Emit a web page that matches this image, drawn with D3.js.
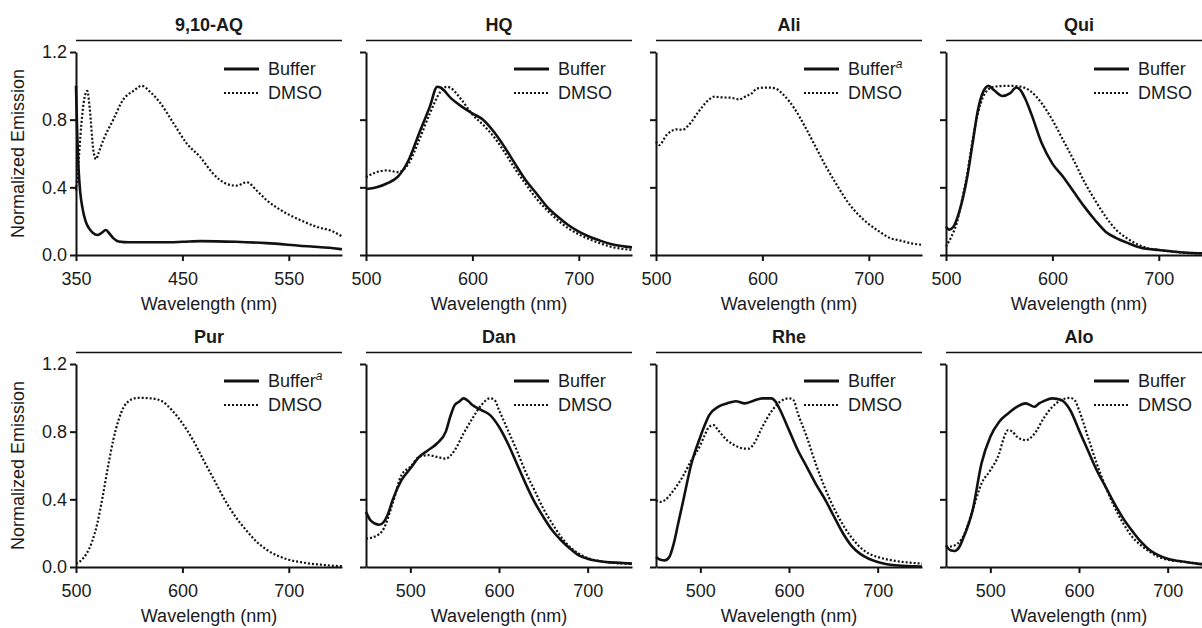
<!DOCTYPE html>
<html>
<head>
<meta charset="utf-8">
<script src="https://cdn.jsdelivr.net/npm/d3@7"></script>
<style>
  body { margin: 0; background: #fff; }
  svg { display: block; }
  text { font-family: "Liberation Sans", Arial, sans-serif; fill: #1a1a1a; }
</style>
</head>
<body>
<div class="chart-box"></div>
<script>
// emission spectra, [wavelength (nm), normalized emission]
const aqBuffer = [[350,1.0],[351,0.75],[352.5,0.5],[354,0.37],[356,0.28],[359,0.2],[362,0.16],[366,0.13],[370,0.118],[374,0.13],[378,0.148],[381,0.13],[385,0.1],[390,0.08],[400,0.075],[430,0.075],[450,0.078],[467,0.082],[500,0.078],[529,0.07],[560,0.055],[592,0.04],[600,0.034]];
const aqDmso = [[350,0.38],[352,0.52],[355,0.77],[358,0.93],[360.7,0.97],[363,0.86],[366.3,0.62],[368.8,0.566],[371,0.6],[375.7,0.68],[385,0.8],[394.5,0.92],[404,0.97],[411.8,1.0],[419.6,0.965],[429,0.9],[441.5,0.78],[454,0.66],[466.6,0.58],[479,0.48],[491.7,0.42],[501,0.41],[510.5,0.43],[520,0.38],[529,0.325],[545,0.256],[560.6,0.207],[576,0.167],[592,0.138],[600,0.11]];

const hqBuffer = [[500,0.39],[510,0.4],[520,0.424],[530,0.463],[540,0.56],[550,0.72],[560,0.877],[567,0.995],[570,0.99],[580,0.926],[590,0.877],[600,0.837],[610,0.8],[620,0.73],[630,0.64],[640,0.54],[650,0.443],[660,0.365],[670,0.286],[680,0.227],[690,0.177],[700,0.138],[710,0.108],[720,0.085],[730,0.065],[740,0.053],[750,0.045]];
const hqDmso = [[500,0.46],[510,0.49],[520,0.5],[530,0.49],[540,0.54],[550,0.68],[560,0.837],[570,0.965],[576,0.995],[580,0.985],[590,0.916],[600,0.83],[610,0.77],[620,0.7],[630,0.61],[640,0.51],[650,0.42],[660,0.335],[670,0.266],[680,0.207],[690,0.158],[700,0.122],[710,0.093],[720,0.069],[730,0.049],[740,0.037],[750,0.03]];

const aliBuffer = [];
const aliDmso = [[500,0.67],[503,0.65],[510,0.71],[520,0.743],[525,0.74],[530,0.763],[540,0.847],[550,0.92],[555,0.936],[560,0.932],[570,0.93],[578,0.92],[585,0.94],[590,0.955],[595,0.985],[605,0.99],[612,0.985],[620,0.946],[630,0.867],[640,0.759],[650,0.64],[660,0.52],[670,0.414],[680,0.315],[690,0.24],[700,0.183],[710,0.138],[720,0.1],[730,0.085],[740,0.069],[750,0.06]];

const quiBuffer = [[500,0.167],[503,0.15],[507,0.167],[512,0.246],[520,0.463],[525,0.66],[530,0.857],[535,0.966],[540,1.0],[545,0.975],[553,0.94],[560,0.955],[566,0.99],[570,0.975],[575,0.916],[580,0.837],[590,0.66],[600,0.54],[610,0.463],[620,0.374],[630,0.286],[640,0.207],[650,0.138],[660,0.1],[670,0.073],[680,0.049],[690,0.035],[700,0.03],[720,0.016],[740,0.01],[750,0.008]];
const quiDmso = [[500,0.05],[505,0.108],[510,0.187],[515,0.325],[520,0.48],[525,0.68],[530,0.837],[535,0.936],[540,0.98],[545,0.995],[560,1.0],[570,0.995],[580,0.966],[590,0.896],[600,0.798],[610,0.68],[620,0.56],[630,0.433],[640,0.325],[650,0.227],[660,0.148],[670,0.099],[680,0.063],[690,0.04],[700,0.03],[720,0.015],[740,0.008],[750,0.005]];

const purBuffer = [];
const purDmso = [[500,0.02],[505,0.04],[510,0.08],[515,0.148],[520,0.257],[525,0.414],[530,0.59],[535,0.75],[540,0.868],[545,0.947],[550,0.983],[555,0.997],[560,1.0],[570,0.997],[580,0.983],[590,0.928],[600,0.849],[610,0.75],[620,0.63],[630,0.513],[640,0.395],[650,0.296],[660,0.217],[670,0.148],[680,0.099],[690,0.065],[700,0.043],[710,0.03],[720,0.02],[730,0.014],[740,0.008],[750,0.005]];

const danBuffer = [[450,0.326],[455,0.276],[460,0.257],[465,0.25],[470,0.266],[475,0.316],[480,0.395],[490,0.513],[500,0.582],[510,0.651],[520,0.69],[530,0.73],[540,0.8],[545,0.888],[550,0.957],[555,0.977],[560,0.997],[565,0.983],[570,0.957],[580,0.928],[590,0.898],[600,0.829],[610,0.73],[620,0.612],[630,0.493],[640,0.385],[650,0.296],[660,0.217],[670,0.158],[680,0.109],[690,0.069],[700,0.049],[720,0.03],[740,0.024],[750,0.02]];
const danDmso = [[450,0.168],[460,0.18],[470,0.227],[480,0.375],[490,0.543],[500,0.592],[510,0.651],[520,0.661],[530,0.651],[540,0.641],[550,0.69],[560,0.789],[570,0.878],[580,0.957],[590,0.997],[595,0.987],[600,0.928],[610,0.809],[620,0.69],[630,0.562],[640,0.454],[650,0.345],[660,0.257],[670,0.178],[680,0.118],[690,0.079],[700,0.053],[720,0.03],[740,0.02],[750,0.018]];

const rheBuffer = [[450,0.059],[455,0.043],[460,0.039],[465,0.059],[470,0.138],[475,0.257],[480,0.375],[490,0.612],[500,0.77],[505,0.839],[510,0.898],[520,0.947],[530,0.967],[540,0.98],[550,0.967],[560,0.983],[570,0.997],[580,0.997],[585,0.977],[590,0.928],[600,0.809],[610,0.69],[620,0.592],[630,0.493],[640,0.405],[650,0.306],[660,0.207],[670,0.128],[680,0.079],[690,0.049],[700,0.03],[720,0.01],[740,0.004],[750,0.003]];
const rheDmso = [[450,0.395],[455,0.385],[460,0.395],[470,0.454],[480,0.533],[490,0.632],[500,0.72],[505,0.78],[510,0.829],[515,0.839],[520,0.809],[530,0.75],[540,0.716],[550,0.7],[555,0.7],[560,0.726],[570,0.829],[580,0.918],[590,0.977],[600,0.997],[605,0.987],[610,0.908],[620,0.77],[630,0.612],[640,0.474],[650,0.355],[660,0.257],[670,0.178],[680,0.118],[690,0.079],[700,0.059],[720,0.036],[740,0.024],[750,0.02]];

const aloBuffer = [[450,0.128],[455,0.099],[460,0.095],[465,0.118],[470,0.178],[480,0.335],[490,0.612],[500,0.77],[510,0.859],[520,0.908],[530,0.947],[540,0.967],[545,0.957],[550,0.947],[555,0.967],[560,0.98],[570,0.997],[580,0.987],[590,0.928],[600,0.809],[610,0.69],[620,0.572],[630,0.474],[640,0.375],[650,0.286],[660,0.213],[670,0.148],[680,0.099],[690,0.069],[700,0.049],[720,0.03],[740,0.016],[750,0.012]];
const aloDmso = [[450,0.118],[460,0.128],[470,0.187],[480,0.335],[490,0.493],[500,0.572],[510,0.671],[515,0.76],[520,0.809],[525,0.8],[530,0.77],[540,0.75],[550,0.789],[560,0.878],[570,0.947],[580,0.987],[590,1.0],[595,0.987],[600,0.928],[610,0.77],[620,0.612],[630,0.474],[640,0.355],[650,0.257],[660,0.178],[670,0.128],[680,0.089],[690,0.059],[700,0.043],[720,0.03],[740,0.016],[750,0.012]];

const titles = ["9,10-AQ", "HQ", "Ali", "Qui", "Pur", "Dan", "Rhe", "Alo"];
const xDomains = [[350, 600], [500, 750], [500, 750], [500, 750], [500, 750], [450, 750], [450, 750], [450, 750]];
const xTicks = [[350, 450, 550], [500, 600, 700], [500, 600, 700], [500, 600, 700], [500, 600, 700], [500, 600, 700], [500, 600, 700], [500, 600, 700]];
const yTicks = [0, 0.4, 0.8, 1.2];
const bufferSeries = [aqBuffer, hqBuffer, aliBuffer, quiBuffer, purBuffer, danBuffer, rheBuffer, aloBuffer];
const dmsoSeries = [aqDmso, hqDmso, aliDmso, quiDmso, purDmso, danDmso, rheDmso, aloDmso];
const bufferNote = [false, false, true, false, true, false, false, false];

const width = 1202, height = 628;
const left0 = 76, top0 = 52, colStep = 290, rowStep = 312;
const pw = 266, ph = 203;

const svg = d3.select(".chart-box").append("svg")
  .attr("width", width)
  .attr("height", height);

const y = d3.scaleLinear().domain([0, 1.2]).range([ph, 0]);

function styleAxis(g) {
  g.select(".domain").attr("stroke", "#111").attr("stroke-width", 2);
  g.selectAll(".tick line").attr("stroke", "#111").attr("stroke-width", 2);
  g.selectAll(".tick text")
    .attr("font-size", 18)
    .attr("fill", "#1a1a1a")
    .attr("font-family", "'Liberation Sans', Arial, sans-serif");
}

titles.forEach((title, i) => {
  const col = i % 4, row = Math.floor(i / 4);
  const g = svg.append("g")
    .attr("transform", "translate(" + (left0 + col * colStep) + "," + (top0 + row * rowStep) + ")");

  const x = d3.scaleLinear().domain(xDomains[i]).range([0, pw]);

  // title with rule underneath
  g.append("text")
    .attr("x", pw / 2).attr("y", -21)
    .attr("text-anchor", "middle")
    .attr("font-size", 18).attr("font-weight", "bold")
    .text(title);
  g.append("line")
    .attr("x1", 0).attr("x2", pw)
    .attr("y1", -11.5).attr("y2", -11.5)
    .attr("stroke", "#111").attr("stroke-width", 1.5);

  const yAxis = d3.axisLeft(y).tickValues(yTicks).tickSize(6).tickSizeOuter(0).tickPadding(3)
    .tickFormat(col === 0 ? d3.format(".1f") : () => "");
  g.append("g").call(yAxis).call(styleAxis);

  const xAxis = d3.axisBottom(x).tickValues(xTicks[i]).tickSize(6).tickSizeOuter(0).tickPadding(11)
    .tickFormat(d3.format("d"));
  g.append("g").attr("transform", "translate(0," + ph + ")").call(xAxis).call(styleAxis);

  g.append("text")
    .attr("x", pw / 2).attr("y", ph + 55)
    .attr("text-anchor", "middle")
    .attr("font-size", 18)
    .text("Wavelength (nm)");

  if (col === 0) {
    g.append("text")
      .attr("transform", "translate(-52," + (ph / 2) + ") rotate(-90)")
      .attr("text-anchor", "middle")
      .attr("font-size", 18)
      .text("Normalized Emission");
  }

  const line = d3.line()
    .x(d => x(d[0]))
    .y(d => y(d[1]))
    .curve(d3.curveMonotoneX);

  g.append("path")
    .datum(dmsoSeries[i])
    .attr("d", line)
    .attr("fill", "none")
    .attr("stroke", "#111")
    .attr("stroke-width", 2.2)
    .attr("stroke-dasharray", "2,2");

  if (bufferSeries[i].length) {
    g.append("path")
      .datum(bufferSeries[i])
      .attr("d", line)
      .attr("fill", "none")
      .attr("stroke", "#111")
      .attr("stroke-width", 2.6)
      .attr("stroke-linejoin", "round");
  }

  // legend
  const lg = g.append("g").attr("transform", "translate(148,0)");
  lg.append("line").attr("x1", 0).attr("x2", 35).attr("y1", 17).attr("y2", 17)
    .attr("stroke", "#111").attr("stroke-width", 2.8);
  const bt = lg.append("text").attr("x", 44).attr("y", 17).attr("dy", "0.36em")
    .attr("font-size", 18).text("Buffer");
  if (bufferNote[i]) {
    bt.append("tspan").attr("dy", -7).attr("font-size", 12).attr("font-style", "italic").text("a");
  }
  lg.append("line").attr("x1", 0).attr("x2", 35).attr("y1", 41).attr("y2", 41)
    .attr("stroke", "#111").attr("stroke-width", 2.2).attr("stroke-dasharray", "2,2");
  lg.append("text").attr("x", 44).attr("y", 41).attr("dy", "0.36em")
    .attr("font-size", 18).text("DMSO");
});
</script>
</body>
</html>
